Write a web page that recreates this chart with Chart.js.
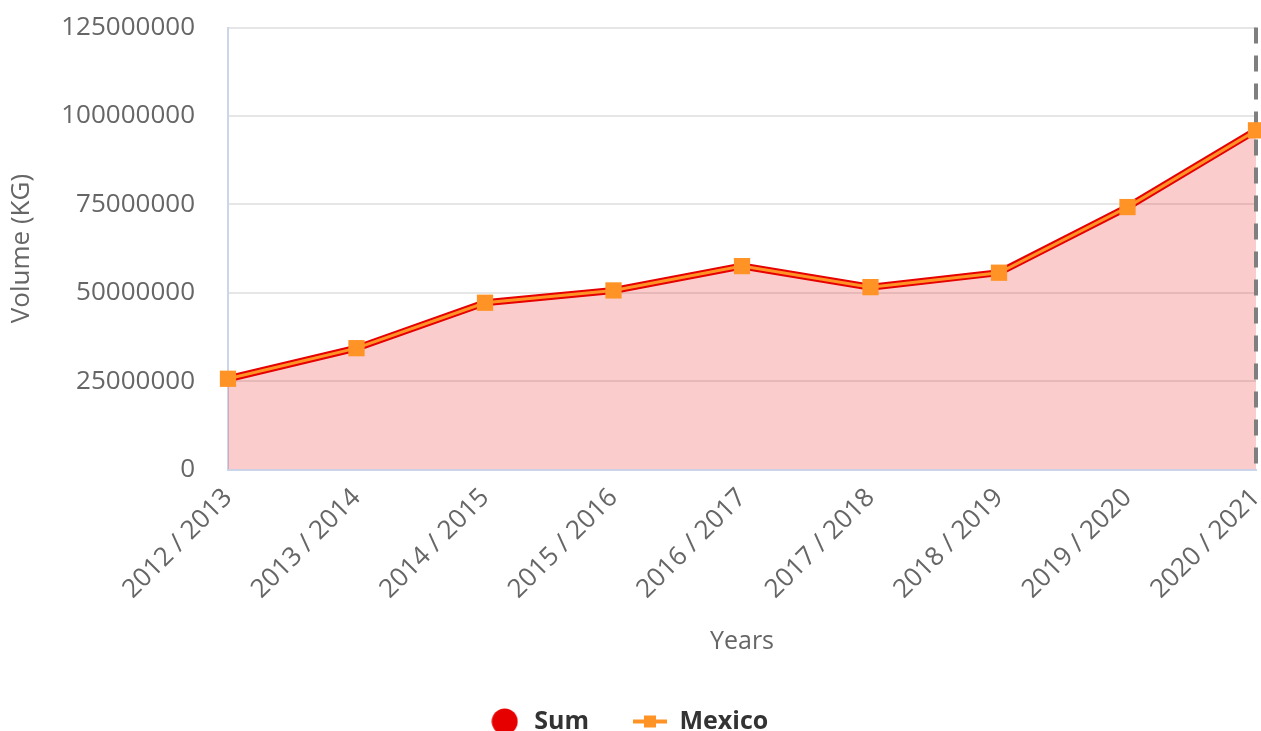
<!DOCTYPE html>
<html>
<head>
<meta charset="utf-8">
<script src="https://cdn.jsdelivr.net/npm/chart.js@4"></script>
<style>
  html, body { margin: 0; padding: 0; background: #ffffff; }
  #wrap { position: relative; width: 1261px; height: 731px; }
</style>
</head>
<body>
<div id="wrap"><canvas id="chart"></canvas></div>
<script>
// ---- data ----
const categories = ['2012 / 2013', '2013 / 2014', '2014 / 2015', '2015 / 2016', '2016 / 2017',
                    '2017 / 2018', '2018 / 2019', '2019 / 2020', '2020 / 2021'];
const sumValues = [25670000, 34320000, 47170000, 50650000, 57530000, 51580000, 55660000, 74220000, 95920000];
const mexicoValues = [25670000, 34320000, 47170000, 50650000, 57530000, 51580000, 55660000, 74220000, 95920000];
const yTickValues = [0, 25000000, 50000000, 75000000, 100000000, 125000000];
const seriesNames = ['Sum', 'Mexico'];

// ---- styles ----
const FONT = '"Open Sans", "Noto Sans", sans-serif';
const RED = '#e60000';
const ORANGE = '#ff9326';

function makeCircleIcon() {
  const c = document.createElement('canvas');
  c.width = 27; c.height = 27;
  const g = c.getContext('2d');
  g.fillStyle = RED;
  g.beginPath(); g.arc(13.5, 13.5, 13, 0, Math.PI * 2); g.fill();
  return c;
}
function makeLineSquareIcon() {
  const c = document.createElement('canvas');
  c.width = 34; c.height = 14;
  const g = c.getContext('2d');
  g.fillStyle = ORANGE;
  g.fillRect(0, 5, 34, 4);
  g.fillRect(11, 1, 12, 12);
  return c;
}
const legendIcons = [makeCircleIcon(), makeLineSquareIcon()];

const dashedEdge = {
  id: 'dashedEdge',
  afterDatasetDraw(chart, args) {
    if (args.index !== 0) return;
    const x = chart.scales.x.getPixelForValue(categories.length - 1);
    const y = chart.scales.y;
    const ctx = chart.ctx;
    ctx.save();
    ctx.strokeStyle = '#7f7f7f';
    ctx.lineWidth = 4;
    ctx.setLineDash([16, 12]);
    ctx.beginPath();
    ctx.moveTo(x, y.getPixelForValue(yTickValues[yTickValues.length - 1]));
    ctx.lineTo(x, y.getPixelForValue(yTickValues[0]));
    ctx.stroke();
    ctx.restore();
  }
};

function build() {
  new Chart(document.getElementById('chart'), {
    type: 'line',
    data: {
      labels: categories,
      datasets: [
        {
          label: seriesNames[0],
          data: sumValues,
          borderColor: RED,
          borderWidth: 7,
          backgroundColor: 'rgba(230,0,0,0.2)',
          fill: 'origin',
          pointRadius: 0,
          pointHoverRadius: 0,
          tension: 0,
          clip: false,
          order: 2
        },
        {
          label: seriesNames[1],
          data: mexicoValues,
          borderColor: ORANGE,
          borderWidth: 3,
          backgroundColor: ORANGE,
          fill: false,
          pointStyle: 'rect',
          pointRadius: 11.5,
          pointBackgroundColor: ORANGE,
          pointBorderWidth: 0,
          tension: 0,
          clip: false,
          order: 1
        }
      ]
    },
    options: {
      responsive: true,
      maintainAspectRatio: false,
      animation: false,
      layout: { autoPadding: false, padding: { top: 27.5, right: 5, left: 0, bottom: 0 } },
      plugins: {
        tooltip: { enabled: false },
        legend: {
          position: 'bottom',
          maxHeight: 66,
          labels: {
            usePointStyle: true,
            pointStyleWidth: 34,
            boxHeight: 25,
            padding: 44,
            color: '#333333',
            font: { family: FONT, size: 25, weight: 'bold' },
            generateLabels(chart) {
              const items = Chart.defaults.plugins.legend.labels.generateLabels(chart);
              items.sort((a, b) => a.datasetIndex - b.datasetIndex);
              return items.map(it => Object.assign(it, { pointStyle: legendIcons[it.datasetIndex] }));
            }
          }
        }
      },
      scales: {
        x: {
          offset: false,
          grid: { display: false, drawTicks: false },
          border: { display: true, color: '#ccd6eb', width: 2 },
          ticks: {
            color: '#666666',
            font: { family: FONT, size: 26 },
            maxRotation: 45,
            minRotation: 45,
            padding: 13,
            autoSkip: false
          },
          title: {
            display: true,
            text: 'Years',
            color: '#666666',
            font: { family: FONT, size: 25 },
            padding: { top: 9, bottom: 8 }
          },
          afterFit(scale) { scale.paddingRight = 0; }
        },
        y: {
          min: yTickValues[0],
          max: yTickValues[yTickValues.length - 1],
          afterBuildTicks(scale) { scale.ticks = yTickValues.map(v => ({ value: v })); },
          grid: { color: '#e6e6e6', lineWidth: 2, drawTicks: false },
          border: { display: true, color: '#ccd6eb', width: 2 },
          ticks: {
            color: '#666666',
            font: { family: FONT, size: 26 },
            padding: 33,
            callback: v => String(v)
          },
          title: {
            display: true,
            text: 'Volume (KG)',
            color: '#666666',
            font: { family: FONT, size: 26 },
            padding: { top: 6, bottom: -9 }
          },
          afterFit(scale) { scale.paddingTop = 0; scale.paddingBottom = 0; }
        }
      }
    },
    plugins: [dashedEdge]
  });
}

if (document.fonts && document.fonts.load) {
  Promise.all([
    document.fonts.load('25px "Open Sans"'),
    document.fonts.load('bold 25px "Open Sans"')
  ]).then(build, build);
} else {
  build();
}
</script>
</body>
</html>
